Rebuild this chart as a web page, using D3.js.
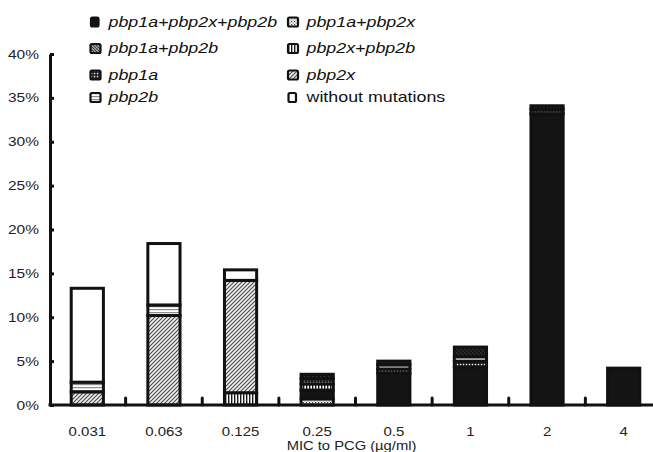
<!DOCTYPE html>
<html><head><meta charset="utf-8">
<script src="https://cdn.jsdelivr.net/npm/d3@7"></script>
<style>body{margin:0;background:#fff} svg{display:block}</style>
</head><body><svg id="chart" width="653" height="452"></svg>
<script>
// MIC categories (µg/ml) and percentage of isolates per mutation pattern
const categories = ["0.031","0.063","0.125","0.25","0.5","1","2","4"];
const yTicks = [0,5,10,15,20,25,30,35,40];

// one array per mutation pattern, values in %, one per category
const pbp1a_pbp2x       = [0,    0,    0,    0.7, 0,   0,   0,    0];
const pbp1a_pbp2x_pbp2b = [0,    0,    0,    1.0, 3.6, 4.3, 33.2, 4.2];
const pbp2x_pbp2b       = [0,    0,    1.4,  0.7, 0,   0,   0,    0];
const pbp1a             = [0,    0,    0,    0.6, 0.5, 0.7, 0.5,  0];
const pbp2x             = [1.5,  10.2, 12.8, 0,   0,   0,   0,    0];
const pbp2b             = [1.1,  1.2,  0,    0,   0.5, 0.5, 0,    0];
const pbp1a_pbp2b       = [0,    0,    0,    0.5, 0.4, 1.1, 0.4,  0];
const withoutMutations  = [10.7, 7.0,  1.2,  0,   0,   0,   0,    0];

// stacking order, bottom to top
const seriesKeys = ["pbp1a+pbp2x","pbp1a+pbp2x+pbp2b","pbp2x+pbp2b","pbp1a","pbp2x","pbp2b","pbp1a+pbp2b","without mutations"];
const seriesValues = [pbp1a_pbp2x, pbp1a_pbp2x_pbp2b, pbp2x_pbp2b, pbp1a, pbp2x, pbp2b, pbp1a_pbp2b, withoutMutations];

// legend layout: two columns, four rows
const legendLeft  = ["pbp1a+pbp2x+pbp2b","pbp1a+pbp2b","pbp1a","pbp2b"];
const legendRight = ["pbp1a+pbp2x","pbp2x+pbp2b","pbp2x","without mutations"];

const svg = d3.select("#chart");
const FONT = "'Liberation Sans', Arial, sans-serif";
const SX = 1.23; // horizontal text stretch

// ---- fill patterns ----
const defs = svg.append("defs");
function pat(id, w, h, bg, draw) {
  const p = defs.append("pattern").attr("id", id).attr("patternUnits", "userSpaceOnUse")
    .attr("width", w).attr("height", h);
  p.append("rect").attr("width", w).attr("height", h).attr("fill", bg);
  draw(p);
}
pat("p-hatch", 4, 4, "#efefef", p => p.append("path")
  .attr("d", "M0,4 L4,0 M-1,1 L1,-1 M3,5 L5,3").attr("stroke", "#4a4a4a").attr("stroke-width", 1.1));
pat("p-hlines", 4, 3, "#ffffff", p => p.append("rect").attr("y", 0).attr("width", 4).attr("height", 1.2).attr("fill", "#8a8a8a"));
pat("p-vlines", 3, 4, "#ffffff", p => p.append("rect").attr("x", 0).attr("width", 1.4).attr("height", 4).attr("fill", "#1a1a1a"));
pat("p-grid", 3, 3, "#141414", p => p.append("rect").attr("x", 0.8).attr("y", 0.8).attr("width", 1.5).attr("height", 1.5).attr("fill", "#f0f0f0"));
pat("p-dots", 3, 3, "#ffffff", p => {
  p.append("rect").attr("x", 0).attr("y", 0).attr("width", 1.2).attr("height", 1.2).attr("fill", "#333");
  p.append("rect").attr("x", 1.5).attr("y", 1.5).attr("width", 1.2).attr("height", 1.2).attr("fill", "#777");
});
pat("p-diag", 4, 4, "#161616", p => p.append("path")
  .attr("d", "M0,0 L4,4 M-1,3 L1,5 M3,-1 L5,1").attr("stroke", "#3c3c3c").attr("stroke-width", 0.8));
// lighter variant of the diagonal fill used for the small legend swatch
pat("p-diag-key", 3, 3, "#9a9a9a", p => p.append("path")
  .attr("d", "M0,0 L3,3 M-1,2 L1,4 M2,-1 L4,1").attr("stroke", "#2a2a2a").attr("stroke-width", 0.9));

const fills = {
  "pbp1a+pbp2x+pbp2b": "#141414",
  "pbp1a+pbp2x": "url(#p-dots)",
  "pbp1a+pbp2b": "url(#p-diag)",
  "pbp2x+pbp2b": "url(#p-vlines)",
  "pbp1a": "url(#p-grid)",
  "pbp2x": "url(#p-hatch)",
  "pbp2b": "url(#p-hlines)",
  "without mutations": "#ffffff"
};
const keyFills = Object.assign({}, fills, { "pbp1a+pbp2b": "url(#p-diag-key)" });

// ---- scales ----
const x = d3.scaleBand().domain(categories).range([49, 662]).paddingInner(0.58).paddingOuter(0.29);
const y = d3.scaleLinear().domain([0, 40]).range([405, 54]);

// ---- stacked data ----
const rows = categories.map((c, i) => {
  const r = { cat: c };
  seriesKeys.forEach((k, j) => r[k] = seriesValues[j][i]);
  return r;
});
const stacked = d3.stack().keys(seriesKeys)(rows);

const gBars = svg.append("g");
stacked.forEach(layer => {
  gBars.selectAll(null).data(layer.filter(d => d[1] - d[0] > 0)).join("rect")
    .attr("x", d => x(d.data.cat))
    .attr("width", x.bandwidth())
    .attr("y", d => y(d[1]))
    .attr("height", d => y(d[0]) - y(d[1]))
    .attr("fill", fills[layer.key])
    .attr("stroke", "#111")
    .attr("stroke-width", 3);
});

// ---- x axis ----
const step = x.step();
const gx = svg.append("g").attr("transform", "translate(0,405)");
gx.append("line").attr("x1", 48.5).attr("x2", 662).attr("stroke", "#111").attr("stroke-width", 3);
gx.selectAll(".bt").data(categories.slice(1)).join("line")
  .attr("x1", d => x(d) + x.bandwidth() / 2 - step / 2)
  .attr("x2", d => x(d) + x.bandwidth() / 2 - step / 2)
  .attr("y1", 0).attr("y2", -7)
  .attr("stroke", "#111").attr("stroke-width", 3).attr("stroke-linecap", "round");
const xAxis = d3.axisBottom(x).tickSize(0).tickPadding(0);
const gxl = svg.append("g").attr("transform", "translate(0,405)").call(xAxis);
gxl.select(".domain").remove();
gxl.selectAll("text")
  .attr("y", 31.5).attr("dy", 0)
  .attr("font-family", FONT).attr("font-size", 12.2).attr("fill", "#222")
  .attr("transform", `scale(${SX},1)`);

svg.append("text")
  .attr("transform", `translate(351.5,449.5) scale(${SX},1)`)
  .attr("text-anchor", "middle")
  .attr("font-family", FONT).attr("font-size", 12).attr("fill", "#222")
  .text("MIC to PCG (µg/ml)");

// ---- y axis ----
const yAxis = d3.axisLeft(y).tickValues(yTicks).tickFormat(d => d + "%").tickSize(-4).tickSizeOuter(0).tickPadding(10);
const gy = svg.append("g").attr("transform", "translate(50,0)").call(yAxis);
gy.select(".domain").attr("stroke", "#111").attr("stroke-width", 3);
gy.selectAll(".tick line").attr("stroke", "#111").attr("stroke-width", 3);
gy.selectAll("text")
  .attr("x", -11 / SX)
  .attr("font-family", FONT).attr("font-size", 12.6).attr("fill", "#222")
  .attr("transform", `scale(${SX},1)`);

// ---- legend ----
const rowBase = [26.5, 53, 79.5, 102];
function legendItem(name, iconX, textX, yb) {
  const g = svg.append("g");
  const small = (name === "pbp1a+pbp2x+pbp2b" || name === "without mutations");
  const w = small ? 7.5 : 10, h = 9;
  g.append("rect")
    .attr("x", iconX + (small ? 0.5 : 0)).attr("y", yb - h)
    .attr("width", w).attr("height", h)
    .attr("rx", 1.5)
    .attr("fill", keyFills[name]).attr("stroke", "#111").attr("stroke-width", 2.2);
  g.append("text")
    .attr("transform", `translate(${textX},${yb}) scale(${SX},1)`)
    .attr("font-family", FONT).attr("font-size", 14.5).attr("fill", "#111")
    .attr("font-style", name === "without mutations" ? "normal" : "italic")
    .text(name);
}
legendLeft.forEach((n, i) => legendItem(n, 90.5, 108.5, rowBase[i]));
legendRight.forEach((n, i) => legendItem(n, 288, 306.5, rowBase[i]));
</script>
</body></html>
